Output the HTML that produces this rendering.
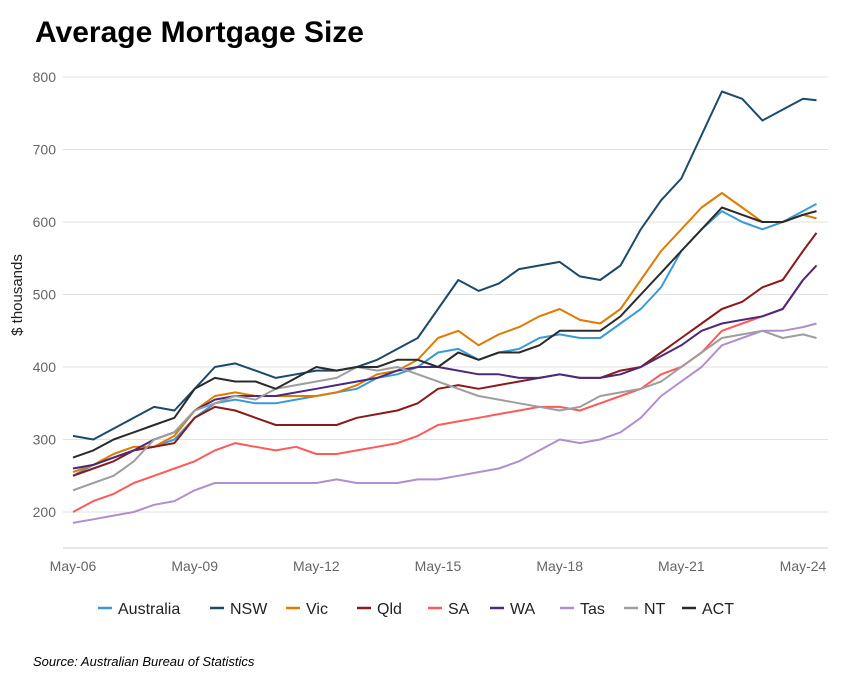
<!DOCTYPE html>
<html><head><meta charset="utf-8"><style>
body{margin:0;background:#fff;font-family:"Liberation Sans",sans-serif;}
svg{display:block}
</style></head><body>
<svg id="c" width="848" height="673">
<text x="35" y="42" font-size="30" font-weight="bold" fill="#000">Average Mortgage Size</text>
<text transform="translate(22,295) rotate(-90)" text-anchor="middle" font-size="15" fill="#222">$ thousands</text>
<text x="33" y="666" font-size="13" font-style="italic" fill="#000">Source: Australian Bureau of Statistics</text>
<g id="grid"></g><g id="series"></g><g id="legend"></g>
</svg>
<script>
const months=[0,6,12,18,24,30,36,42,48,54,60,66,72,78,84,90,96,102,108,114,120,126,132,138,144,150,156,162,168,174,180,186,192,198,204,210,216,220];
const yTicks=[200,300,400,500,600,700,800];
const xTickLabels=["May-06","May-09","May-12","May-15","May-18","May-21","May-24"];
const xTickMonths=[0,36,72,108,144,180,216];
const seriesNames=["Australia","NSW","Vic","Qld","SA","WA","Tas","NT","ACT"];
const nsw=[305,300,315,330,345,340,370,400,405,395,385,390,395,395,400,410,425,440,480,520,505,515,535,540,545,525,520,540,590,630,660,720,780,770,740,755,770,768];
const aus=[250,265,275,285,290,300,330,350,355,350,350,355,360,365,370,385,390,400,420,425,410,420,425,440,445,440,440,460,480,510,560,590,615,600,590,600,615,625];
const vic=[255,265,280,290,290,305,340,360,365,360,360,360,360,365,375,390,395,410,440,450,430,445,455,470,480,465,460,480,520,560,590,620,640,620,600,600,610,605];
const act=[275,285,300,310,320,330,370,385,380,380,370,385,400,395,400,400,410,410,400,420,410,420,420,430,450,450,450,470,500,530,560,590,620,610,600,600,610,615];
const qld=[250,260,270,285,290,295,330,345,340,330,320,320,320,320,330,335,340,350,370,375,370,375,380,385,390,385,385,395,400,420,440,460,480,490,510,520,560,585];
const sa=[200,215,225,240,250,260,270,285,295,290,285,290,280,280,285,290,295,305,320,325,330,335,340,345,345,340,350,360,370,390,400,420,450,460,470,480,520,540];
const wa=[260,265,275,285,300,310,340,355,360,360,360,365,370,375,380,385,395,400,400,395,390,390,385,385,390,385,385,390,400,415,430,450,460,465,470,480,520,540];
const tas=[185,190,195,200,210,215,230,240,240,240,240,240,240,245,240,240,240,245,245,250,255,260,270,285,300,295,300,310,330,360,380,400,430,440,450,450,455,460];
const nt=[230,240,250,270,300,310,340,350,360,355,370,375,380,385,400,395,400,390,380,370,360,355,350,345,340,345,360,365,370,380,400,420,440,445,450,440,445,440];
const colors=["#3a9ad9","#1b4a6b","#e07b00","#8b1a1a","#ff5a5a","#4b2a7b","#b08fce","#9e9e9e","#2b2b2b"];
const values=[aus,nsw,vic,qld,sa,wa,tas,nt,act];
const NS="http://www.w3.org/2000/svg";
const X=m=>73+m*(730/216);
const Y=v=>512-(v-200)*0.725;
const grid=document.getElementById('grid');
function mk(t,a,p){const e=document.createElementNS(NS,t);for(const k in a)e.setAttribute(k,a[k]);p.appendChild(e);return e;}
yTicks.forEach(v=>{
 const l=mk('line',{x1:63,x2:828,y1:Y(v),y2:Y(v),stroke:'#e2e2e2','stroke-width':1},grid);
 
 
 const t=mk('text',{x:56,y:Y(v)+5,'text-anchor':'end','font-size':14,fill:'#666'},grid);
 t.textContent=v;
 
 
});
const ax=mk('line',{x1:63,x2:828,y1:548,y2:548,stroke:'#ccc','stroke-width':1},grid);


xTickLabels.forEach((s,i)=>{
 const t=mk('text',{x:X(xTickMonths[i]),y:571,'text-anchor':'middle','font-size':14,fill:'#666'},grid);
 t.textContent=s;
 
 
});
const sg=document.getElementById('series');
values.forEach((vals,i)=>{
 const d=vals.map((v,j)=>(j?'L':'M')+X(months[j]).toFixed(1)+' '+Y(v).toFixed(1)).join(' ');
 const p=mk('path',{d:d,fill:'none',stroke:colors[i],'stroke-width':2,'stroke-linejoin':'round'},sg);
 
 
});
const lg=document.getElementById('legend');
const lx=[98,210,286,357,428,490,560,624,682];
seriesNames.forEach((n,i)=>{
 const g=mk('g',{},lg);
 
 
 mk('line',{x1:lx[i],x2:lx[i]+14,y1:608,y2:608,stroke:colors[i],'stroke-width':2.5},g);
 const t=mk('text',{x:lx[i]+20,y:614,'font-size':16,fill:'#222'},g);
 t.textContent=n;
});
</script>
</body></html>
